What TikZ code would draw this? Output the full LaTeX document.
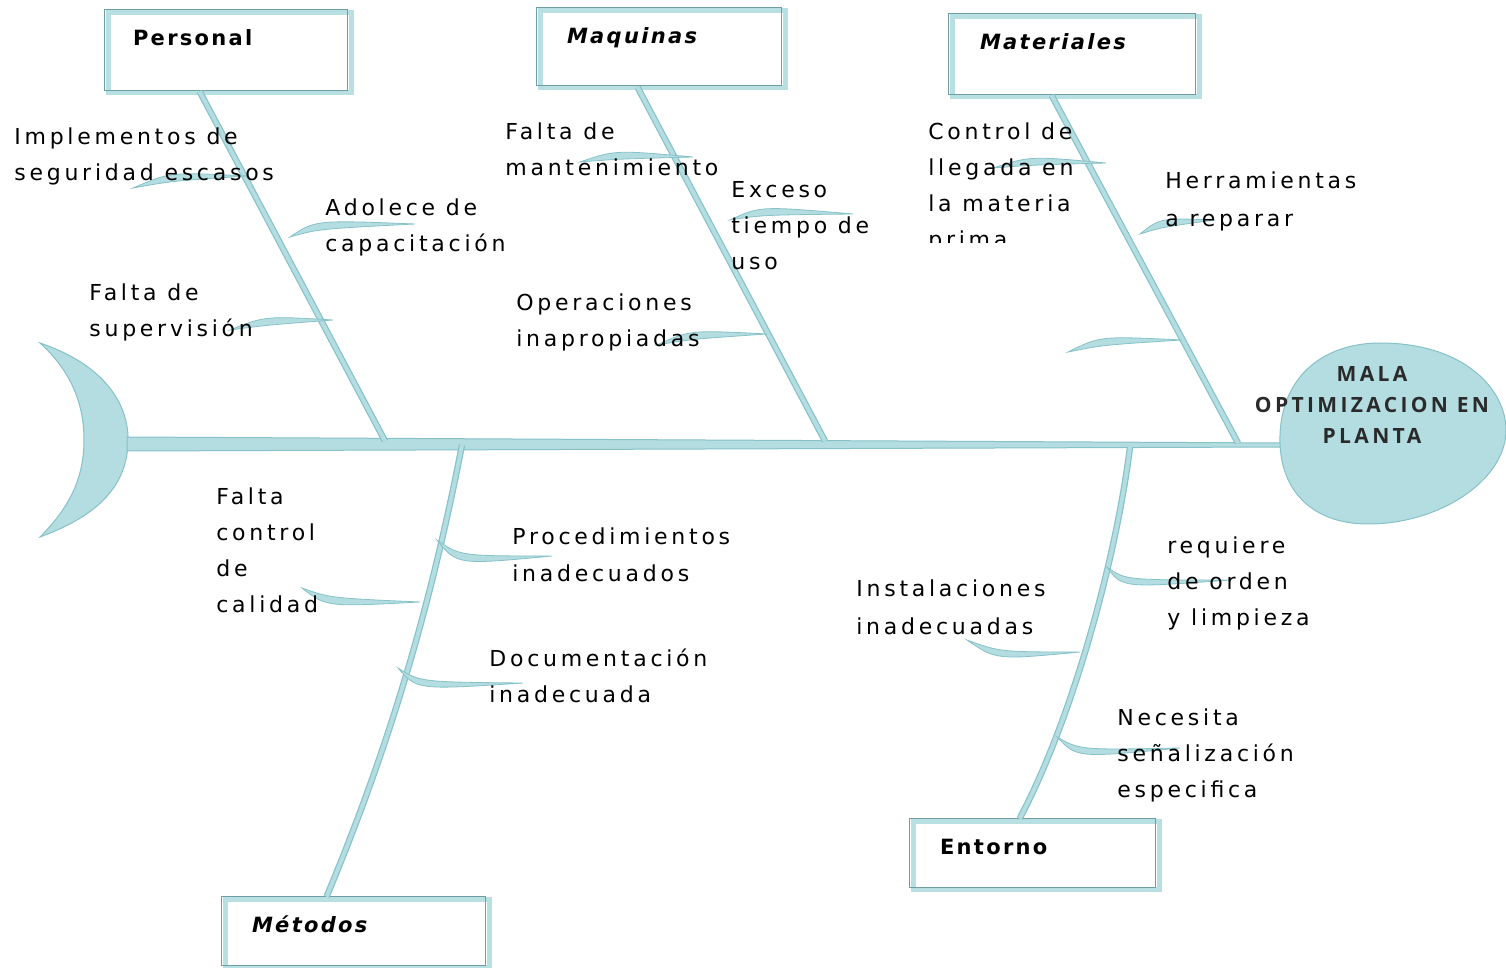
\documentclass[tikz,border=0pt]{standalone}
\usepackage{fontspec}
\setmainfont{DejaVu Sans}
\newfontfamily\labfont[LetterSpace=17]{DejaVu Sans}
\newfontfamily\ttlfont[LetterSpace=11]{DejaVu Sans}
\newfontfamily\headfont[LetterSpace=16]{Open Sans}
\usetikzlibrary{calc,fit}
\definecolor{tealfill}{HTML}{B3DDE1}
\definecolor{tealedge}{HTML}{86C2C7}
\definecolor{boxdark}{HTML}{6E9DA2}
\definecolor{boxlight}{HTML}{B8E0E3}
\definecolor{headtxt}{HTML}{2A2A2A}
\tikzset{
  fishfill/.style={fill=tealfill, draw=tealedge, line width=0.5pt},
  bone/.style={draw=tealedge, line width=3.2pt, postaction={draw=tealfill, line width=2pt}},
  subb/.style={fill=tealfill, draw=tealedge, line width=0.4pt},
  lab/.style={anchor=base west, align=left, inner sep=0pt, font=\labfont\fontsize{11}{18}\selectfont},
  ttl/.style={anchor=base west, inner sep=0pt, font=\ttlfont\fontsize{10.5}{12}\selectfont\bfseries},
  ttli/.style={ttl, font=\ttlfont\fontsize{10.5}{12}\selectfont\bfseries\itshape},
  headlab/.style={align=center, inner sep=0pt, text=headtxt, font=\headfont\fontsize{10.5}{15.5}\selectfont\bfseries}
}
\newcommand{\catbox}[5]{%
  \node[inner sep=0pt, fit={(#2,#3) (#4,#5)}] (#1) {};
  \draw[boxlight, line width=2.4pt] ($(#1.north west)+(4,3)$) rectangle ($(#1.south east)+(4,2)$);
  \draw[boxdark, line width=0.7pt] (#1.north west) rectangle (#1.south east);
}
\newcommand{\subbone}[4]{%
  \filldraw[subb] (#1) .. controls (#2) .. (#4) .. controls (#3) .. (#1) -- cycle;
}
\begin{document}
\begin{tikzpicture}[x=0.5pt,y=-0.5pt]
\useasboundingbox (0,0) rectangle (1506,968);

% tail
\filldraw[fishfill] (40,343) .. controls (105,365) and (130,405) .. (128,444)
  .. controls (126,485) and (100,515) .. (40,537)
  .. controls (72,505) and (84,475) .. (84,440)
  .. controls (84,405) and (72,372) .. (40,343) -- cycle;
\coordinate (tailR) at (127,444);
\coordinate (headL) at (1284,445);
% spine
\filldraw[fishfill] ($(tailR)+(0,-7)$) -- ($(headL)+(0,-2)$) -- ($(headL)+(0,2)$) -- ($(tailR)+(0,7)$) -- cycle;

% boxes
\catbox{personal}{105}{10}{347}{90}
\catbox{maquinas}{537}{8}{781}{85}
\catbox{materiales}{949}{14}{1195}{94}
\catbox{metodos}{222}{897}{485}{965}
\catbox{entorno}{910}{819}{1155}{887}

% main bones
\coordinate (pS) at (385,441);
\coordinate (mS) at (825,441);
\coordinate (tS) at (1238,443);
\coordinate (dS) at (462,445);
\coordinate (eS) at (1130,447);
\draw[bone] ($(personal.south west)+(95,1)$) -- (pS);
\draw[bone] ($(maquinas.south west)+(101,2)$) -- (mS);
\draw[bone] ($(materiales.south west)+(103,1)$) -- (tS);
\draw[bone] (dS) .. controls (432,600) and (392,740) .. ($(metodos.north west)+(105,0)$);
\draw[bone] (eS) .. controls (1116,560) and (1072,720) .. ($(entorno.north west)+(110,0)$);

% head
\filldraw[fishfill] (1280,435) .. controls (1282,375) and (1325,343) .. (1380,343)
  .. controls (1465,343) and (1506,390) .. (1506,430)
  .. controls (1506,480) and (1440,524) .. (1368,524)
  .. controls (1312,524) and (1278,490) .. (1280,435) -- cycle;

% sub bones
\subbone{133,188}{170,172}{172,181}{247,176}
\subbone{290,237}{315,220}{318,229}{415,224}
\subbone{230,330}{265,316}{268,325}{333,320}
\subbone{580,162}{615,150}{618,159}{693,157}
\subbone{730,220}{760,206}{762,215}{853,214}
\subbone{657,345}{690,330}{693,339}{767,334}
\subbone{993,168}{1030,156}{1032,165}{1106,163}
\subbone{1140,234}{1160,218}{1163,227}{1215,220}
\subbone{1068,352}{1100,336}{1103,345}{1182,340}
\subbone{437,540}{460,556}{457,565}{552,556}
\subbone{302,588}{330,598}{326,607}{420,602}
\subbone{398,668}{420,682}{417,690}{523,683}
\subbone{1107,567}{1125,580}{1122,588}{1230,580}
\subbone{967,640}{1000,652}{996,660}{1080,652}
\subbone{1057,737}{1080,750}{1077,758}{1180,748}

% titles
\node[ttl] (tpersonal) at ($(personal.north west)+(28,36)$) {Personal};
\node[ttli] (tmaquinas) at ($(maquinas.north west)+(30,36)$) {Maquinas};
\node[ttli] (tmateriales) at ($(materiales.north west)+(31,36)$) {Materiales};
\node[ttli] (tmetodos) at ($(metodos.north west)+(30,36)$) {Métodos};
\node[ttl] (tentorno) at ($(entorno.north west)+(30,36)$) {Entorno};

% labels (anchor = baseline of last line)
\node[lab] (l1) at (14,181) {Implementos de\\seguridad escasos};
\node[lab] (l2) at (325,252) {Adolece de\\capacitación};
\node[lab] (l3) at (89,337) {Falta de\\supervisión};
\node[lab] (l4) at (505,176) {Falta de\\mantenimiento};
\node[lab] (l5) at (731,270) {Exceso\\tiempo de\\uso};
\node[lab] (l6) at (516,347) {Operaciones\\inapropiadas};
\begin{scope}
\clip (900,100) rectangle (1110,243);
\node[lab] (l7) at (928,248) {Control de\\llegada en\\la materia\\prima};
\end{scope}
\node[lab, font=\labfont\fontsize{11}{19}\selectfont] (l8) at (1165,227) {Herramientas\\a reparar};
\node[lab] (l9) at (216,612) {Falta\\control\\de\\calidad};
\node[lab] (l10) at (512,581) {Procedimientos\\inadecuados};
\node[lab] (l11) at (489,702) {Documentación\\inadecuada};
\node[lab, font=\labfont\fontsize{11}{19}\selectfont] (l12) at (856,634) {Instalaciones\\inadecuadas};
\node[lab] (l13) at (1167,625) {requiere\\de orden\\y limpieza};
\node[lab] (l14) at (1117,797) {Necesita\\señalización\\especifica};

% head text
\node[headlab] (head) at (1372,405) {MALA\\OPTIMIZACION EN\\PLANTA};
\end{tikzpicture}
\end{document}
